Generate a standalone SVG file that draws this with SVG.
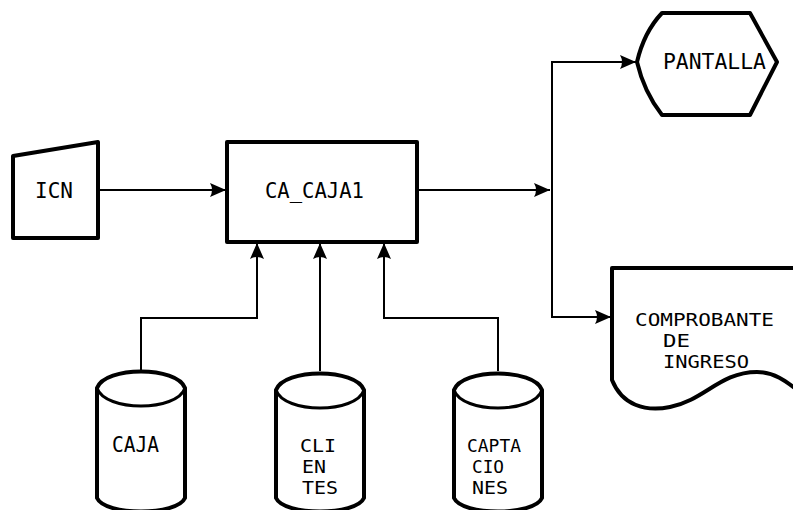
<svg xmlns="http://www.w3.org/2000/svg" width="793" height="510" viewBox="0 0 793 510">
  <style>
    .node { fill: #ffffff; stroke: #000000; stroke-width: 4; stroke-linejoin: round; }
    .thin { fill: none; stroke: #000000; stroke-width: 3; }
    .conn { fill: none; stroke: #000000; stroke-width: 2; }
    .lbl { font-family: "DejaVu Sans Mono", "Liberation Mono", monospace; font-size: 21px; fill: #000000; }
    .stk { font-family: "DejaVu Sans Mono", "Liberation Mono", monospace; font-size: 18px; fill: #000000; }
  </style>
  <defs>
    <marker id="arr" markerUnits="userSpaceOnUse" markerWidth="17" markerHeight="15" viewBox="0 0 17 15" refX="16" refY="7.5" orient="auto">
      <path d="M0,0.5 L16,7.5 L0,14.5 Q4,7.5 0,0.5 Z" fill="#000000"/>
    </marker>
  </defs>
  <rect width="793" height="510" fill="#ffffff"/>

  <g id="connectors">
    <path class="conn" d="M98,190 H226" marker-end="url(#arr)"/>
    <path class="conn" d="M417,190 H550" marker-end="url(#arr)"/>
    <path class="conn" d="M552,190 V62 H636" marker-end="url(#arr)"/>
    <path class="conn" d="M552,190 V317 H611" marker-end="url(#arr)"/>
    <path class="conn" d="M141,370 V318 H257 V243" marker-end="url(#arr)"/>
    <path class="conn" d="M320,371 V243" marker-end="url(#arr)"/>
    <path class="conn" d="M498,371 V318 H384 V243" marker-end="url(#arr)"/>
  </g>

  <g id="icn">
    <path class="node" d="M13,156 L98,142 V238 H13 Z"/>
    <text class="lbl" x="35" y="198" textLength="38" lengthAdjust="spacingAndGlyphs">ICN</text>
  </g>

  <g id="ca_caja1">
    <rect class="node" x="227" y="142" width="190" height="100"/>
    <text class="lbl" x="265" y="198" textLength="99" lengthAdjust="spacingAndGlyphs">CA_CAJA1</text>
  </g>

  <g id="pantalla">
    <path class="node" d="M662,13 H750 L777,62 L750,115 H662 Q644,92 637,62 Q644,32 662,13 Z"/>
    <text class="lbl" x="663" y="69" textLength="103" lengthAdjust="spacingAndGlyphs">PANTALLA</text>
  </g>

  <g id="comprobante">
    <path class="node" d="M800,268 H612 V380 C622,405 645,412 670,407 C705,400 720,372 757,372 C775,372 787,382 800,392"/>
    <text class="stk" x="635" y="326" textLength="139" lengthAdjust="spacingAndGlyphs">COMPROBANTE</text>
    <text class="stk" x="663" y="347" textLength="27" lengthAdjust="spacingAndGlyphs">DE</text>
    <text class="stk" x="663" y="368" textLength="86" lengthAdjust="spacingAndGlyphs">INGRESO</text>
  </g>

  <g id="caja">
    <path class="node" d="M97,388 C105,366 177,366 185,388 V498 C177,516 105,516 97,498 Z"/>
    <path class="thin" d="M97,388 C105,412 177,412 185,388"/>
    <text class="lbl" x="112" y="452" textLength="47" lengthAdjust="spacingAndGlyphs">CAJA</text>
  </g>

  <g id="clientes">
    <path class="node" d="M276,390 C284,368 356,368 364,390 V498 C356,516 284,516 276,498 Z"/>
    <path class="thin" d="M276,390 C284,414 356,414 364,390"/>
    <text class="stk" x="300" y="452" textLength="36" lengthAdjust="spacingAndGlyphs">CLI</text>
    <text class="stk" x="302" y="473" textLength="24" lengthAdjust="spacingAndGlyphs">EN</text>
    <text class="stk" x="302" y="494" textLength="36" lengthAdjust="spacingAndGlyphs">TES</text>
  </g>

  <g id="captaciones">
    <path class="node" d="M454,390 C462,368 534,368 542,390 V498 C534,516 462,516 454,498 Z"/>
    <path class="thin" d="M454,390 C462,414 534,414 542,390"/>
    <text class="stk" x="467" y="452" textLength="54" lengthAdjust="spacingAndGlyphs">CAPTA</text>
    <text class="stk" x="472" y="473" textLength="32" lengthAdjust="spacingAndGlyphs">CIO</text>
    <text class="stk" x="472" y="494" textLength="36" lengthAdjust="spacingAndGlyphs">NES</text>
  </g>
</svg>
